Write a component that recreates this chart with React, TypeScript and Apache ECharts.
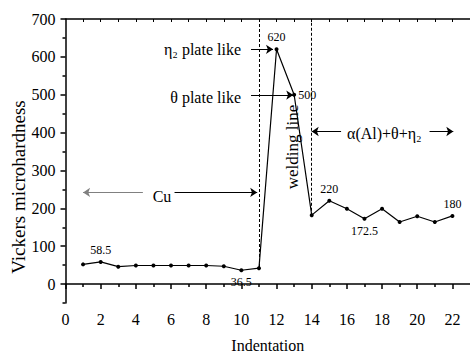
import React, { useEffect, useRef } from "react";
import * as echarts from "echarts";

// ---- data ----
const indentation = [1, 2, 3, 4, 5, 6, 7, 8, 9, 10, 11, 12, 13, 14, 15, 16, 17, 18, 19, 20, 21, 22];
const hardness = [52, 58.5, 46, 49, 49, 49, 49, 49, 47, 36.5, 42, 620, 500, 182, 220, 199, 172.5, 199, 164, 179, 164, 180];
const xTickLabels = [0, 2, 4, 6, 8, 10, 12, 14, 16, 18, 20, 22];
const xMinorTicks = [1, 3, 5, 7, 9, 11, 13, 15, 17, 19, 21];
const xTopTicks = [1, 2, 3, 4, 5, 6, 7, 8, 9, 10, 11, 12, 13, 14, 15, 16, 17, 18, 19, 20, 21, 22];
const yTickLabels = [0, 100, 200, 300, 400, 500, 600, 700];
const yMinorTicks = [-50, 50, 150, 250, 350, 450, 550, 650];
// which points carry a value label, and where
const labelPlacement: Record<number, string> = { 2: "top", 10: "bottom", 12: "top", 13: "right", 15: "top", 17: "bottom", 22: "top" };

const FONT = "Liberation Serif";

export default function App() {
  const ref = useRef<HTMLDivElement>(null);
  useEffect(() => {
    if (!ref.current) return;
    const chart = echarts.init(ref.current, null, { renderer: "svg" });

    const seriesData = indentation.map((x, i) => {
      const pos = labelPlacement[x];
      const item: any = { value: [x, hardness[i]] };
      if (pos) {
        item.label = {
          show: true,
          position: pos,
          distance: pos === "right" ? 2 : 4,
          formatter: String(hardness[i]),
          fontFamily: FONT,
          fontSize: 12,
          color: "#000",
        };
      }
      return item;
    });

    const arrow = (x1: number, y1: number, x2: number, y2: number, color = "#000") => [
      { coord: [x1, y1], symbol: "none", lineStyle: { color, width: 1, type: "solid" } },
      { coord: [x2, y2], symbol: "arrow", symbolSize: 7 },
    ];
    const dashed = (x: number, y1: number, y2: number) => [
      { coord: [x, y1], symbol: "none", lineStyle: { color: "#000", width: 1, type: [3, 2] } },
      { coord: [x, y2], symbol: "none" },
    ];

    const axisCommon = {
      type: "value",
      min: 0,
      max: 23,
      splitLine: { show: false },
    };

    chart.setOption({
      animation: false,
      backgroundColor: "#fff",
      grid: { left: 65.5, top: 19, width: 408, height: 291 },
      xAxis: [
        {
          ...axisCommon,
          position: "bottom",
          axisLine: { show: true, lineStyle: { color: "#000", width: 1.5 } },
          axisTick: { show: true, length: 5, customValues: xTickLabels, lineStyle: { color: "#000", width: 1.5 } },
          axisLabel: { customValues: xTickLabels, margin: 8, fontFamily: FONT, fontSize: 16, color: "#000" },
          name: "Indentation",
          nameLocation: "middle",
          nameGap: 34,
          nameTextStyle: { fontFamily: FONT, fontSize: 16, color: "#000" },
        },
        {
          ...axisCommon,
          position: "bottom",
          axisLine: { show: false },
          axisTick: { show: true, length: 3, customValues: xMinorTicks, lineStyle: { color: "#000", width: 1.5 } },
          axisLabel: { show: false },
        },
        {
          ...axisCommon,
          position: "top",
          axisLine: { show: true, lineStyle: { color: "#000", width: 1.5 } },
          axisTick: { show: true, inside: true, length: 3, customValues: xTopTicks, lineStyle: { color: "#000", width: 1 } },
          axisLabel: { show: false },
        },
      ],
      yAxis: [
        {
          type: "value",
          min: -50,
          max: 700,
          position: "left",
          splitLine: { show: false },
          axisLine: { show: true, lineStyle: { color: "#000", width: 1.5 } },
          axisTick: { show: true, length: 5, customValues: yTickLabels, lineStyle: { color: "#000", width: 1.5 } },
          axisLabel: { customValues: yTickLabels, margin: 10, fontFamily: FONT, fontSize: 16, color: "#000" },
        },
        {
          type: "value",
          min: -50,
          max: 700,
          position: "left",
          splitLine: { show: false },
          axisLine: { show: false },
          axisTick: { show: true, length: 3, customValues: yMinorTicks, lineStyle: { color: "#000", width: 1.5 } },
          axisLabel: { show: false },
        },
      ],
      series: [
        {
          type: "line",
          xAxisIndex: 0,
          yAxisIndex: 0,
          data: seriesData,
          symbol: "circle",
          symbolSize: 4,
          itemStyle: { color: "#000" },
          lineStyle: { color: "#000", width: 1.2 },
          markLine: {
            silent: true,
            animation: false,
            label: { show: false },
            data: [
              dashed(11, 700, 42),
              dashed(14, 690, 182),
              arrow(4.4, 242, 1.0, 242, "#808080"),
              arrow(6.2, 242, 10.9, 242),
              arrow(10.55, 620, 11.8, 620),
              arrow(10.55, 499, 12.95, 499),
              arrow(15.67, 403, 14.0, 403),
              arrow(20.7, 403, 22.05, 403),
            ],
          },
        },
      ],
      graphic: [
        {
          type: "text",
          x: 18,
          y: 187,
          rotation: Math.PI / 2,
          style: { text: "Vickers microhardness", fontFamily: FONT, fontSize: 19, fill: "#000", align: "center", verticalAlign: "middle" },
        },
        {
          type: "text",
          x: 241,
          y: 49,
          style: { text: "η₂ plate like", fontFamily: FONT, fontSize: 16, fill: "#000", align: "right", verticalAlign: "middle" },
        },
        {
          type: "text",
          x: 241,
          y: 97,
          style: { text: "θ plate like", fontFamily: FONT, fontSize: 16, fill: "#000", align: "right", verticalAlign: "middle" },
        },
        {
          type: "text",
          x: 292,
          y: 147,
          rotation: Math.PI / 2,
          style: { text: "welding line", fontFamily: FONT, fontSize: 17, fill: "#000", align: "center", verticalAlign: "middle" },
        },
        {
          type: "text",
          x: 347,
          y: 133,
          style: { text: "α(Al)+θ+η₂", fontFamily: FONT, fontSize: 16, fill: "#000", align: "left", verticalAlign: "middle" },
        },
        {
          type: "text",
          x: 162,
          y: 196,
          style: { text: "Cu", fontFamily: FONT, fontSize: 16, fill: "#000", align: "center", verticalAlign: "middle" },
        },
      ],
    });
    return () => chart.dispose();
  }, []);
  return <div ref={ref} style={{ position: "absolute", left: 0, top: 0, width: 470, height: 358 }} />;
}
